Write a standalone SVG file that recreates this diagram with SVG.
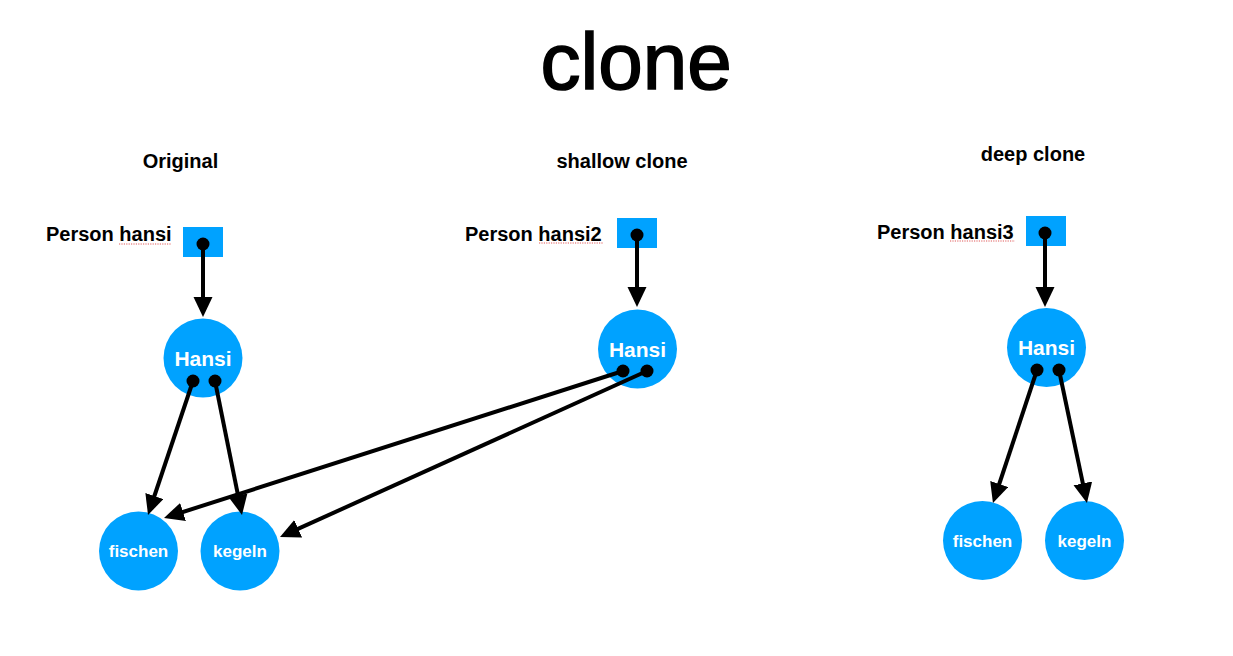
<svg xmlns="http://www.w3.org/2000/svg" width="1233" height="656" viewBox="0 0 1233 656">
<style>
text{font-family:"Liberation Sans",Arial,Helvetica,sans-serif}
.h{font-size:20px;font-weight:bold;fill:#000;text-anchor:middle}
.lbl{font-size:20px;font-weight:bold;fill:#000}
.nd{fill:#00A2FF}
.nt{fill:#fff;font-weight:bold;text-anchor:middle}
.big{font-size:21px}
.sm{font-size:17px}
.ln{stroke:#000;stroke-width:4;fill:none;marker-end:url(#ah)}
.dot{fill:#000}
.sp{stroke:#e05a5a;stroke-width:1.2;stroke-dasharray:1.2 1.2;fill:none}
</style>
<defs>
<marker id="ah" markerUnits="userSpaceOnUse" markerWidth="21" markerHeight="20" refX="10" refY="9.5" orient="auto">
<path d="M0,0 L20,9.5 L0,19 z" fill="#000"/>
</marker>
</defs>
<rect width="1233" height="656" fill="#fff"/>
<text x="636" y="89" style="font-size:80px;text-anchor:middle;fill:#000;stroke:#000;stroke-width:1.6">clone</text>
<text class="h" x="180.5" y="168">Original</text>
<text class="h" x="622" y="168">shallow clone</text>
<text class="h" x="1033" y="161">deep clone</text>

<g id="ref-hansi">
<text class="lbl" x="46" y="241">Person hansi</text>
<line class="sp" x1="119" y1="244" x2="171" y2="244"/>
<rect class="nd" x="183" y="227" width="40" height="30"/>
<circle class="dot" cx="203" cy="244" r="6.5"/>
</g>
<g id="orig-hansi">
<circle class="nd" cx="203" cy="358" r="39.5"/>
<text class="nt big" x="203" y="366">Hansi</text>
<circle class="dot" cx="193" cy="381" r="6.5"/>
<circle class="dot" cx="215" cy="381" r="6.5"/>
</g>
<g id="orig-fischen">
<circle class="nd" cx="138.5" cy="551" r="39.5"/>
<text class="nt sm" x="138.5" y="557">fischen</text>
</g>
<g id="orig-kegeln">
<circle class="nd" cx="240" cy="551" r="39.5"/>
<text class="nt sm" x="240" y="557">kegeln</text>
</g>

<g id="ref-hansi2">
<text class="lbl" x="465" y="241">Person hansi2</text>
<line class="sp" x1="539" y1="243" x2="603" y2="243"/>
<rect class="nd" x="617" y="218" width="40" height="30"/>
<circle class="dot" cx="637" cy="235" r="6.5"/>
</g>
<g id="shallow-hansi">
<circle class="nd" cx="637.5" cy="349" r="39.5"/>
<text class="nt big" x="637.5" y="357">Hansi</text>
<circle class="dot" cx="623" cy="371" r="6.5"/>
<circle class="dot" cx="647" cy="371" r="6.5"/>
</g>

<g id="ref-hansi3">
<text class="lbl" x="877" y="239">Person hansi3</text>
<line class="sp" x1="950" y1="241" x2="1015" y2="241"/>
<rect class="nd" x="1026" y="216" width="40" height="30"/>
<circle class="dot" cx="1045" cy="233" r="6.5"/>
</g>
<g id="deep-hansi">
<circle class="nd" cx="1046.5" cy="347.5" r="39.5"/>
<text class="nt big" x="1046.5" y="355">Hansi</text>
<circle class="dot" cx="1037" cy="370" r="6.5"/>
<circle class="dot" cx="1059" cy="370" r="6.5"/>
</g>
<g id="deep-fischen">
<circle class="nd" cx="982.5" cy="540.5" r="39.5"/>
<text class="nt sm" x="982.5" y="547">fischen</text>
</g>
<g id="deep-kegeln">
<circle class="nd" cx="1084.5" cy="540.5" r="39.5"/>
<text class="nt sm" x="1084.5" y="547">kegeln</text>
</g>

<g id="connectors">
<line class="ln" x1="203" y1="244" x2="203" y2="307"/>
<line class="ln" x1="193" y1="381" x2="151.2" y2="505.5"/>
<line class="ln" x1="215" y1="381" x2="240" y2="505.2"/>
<line class="ln" x1="637" y1="235" x2="637" y2="297"/>
<line class="ln" x1="623" y1="371" x2="173.5" y2="515"/>
<line class="ln" x1="647" y1="371" x2="289.1" y2="532.9"/>
<line class="ln" x1="1045" y1="233" x2="1045" y2="297"/>
<line class="ln" x1="1037" y1="370" x2="996.1" y2="493.5"/>
<line class="ln" x1="1059" y1="370" x2="1084.9" y2="493.2"/>
</g>
</svg>
